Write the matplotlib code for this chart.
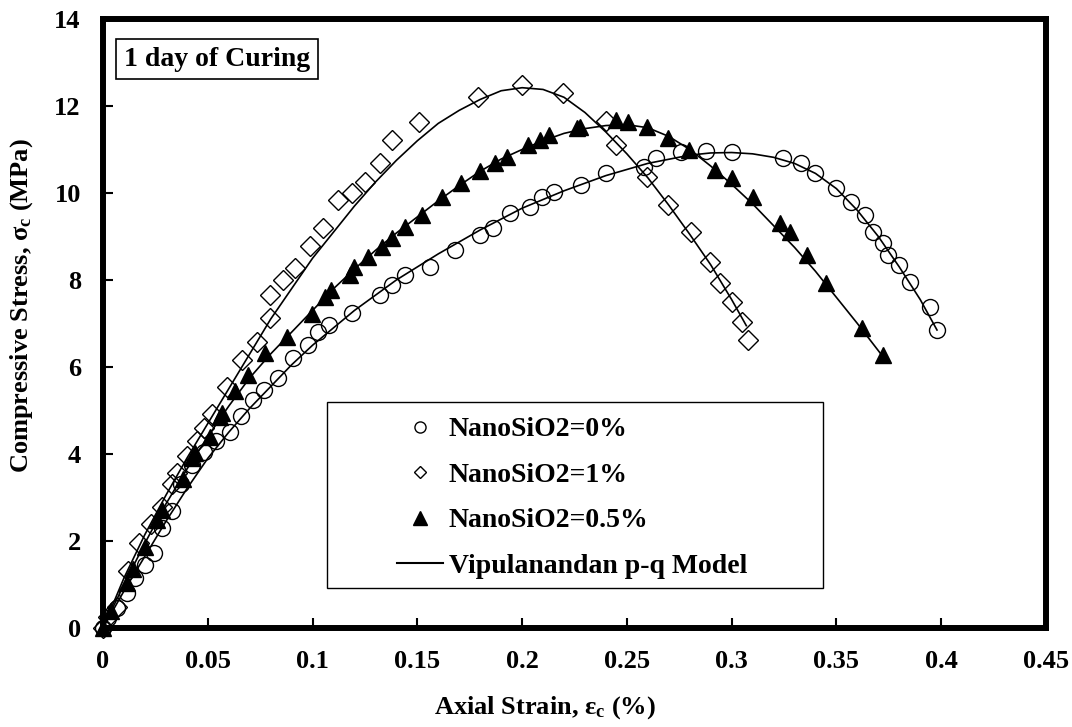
import numpy as np
import matplotlib.pyplot as plt
from matplotlib.lines import Line2D
from matplotlib.patches import Rectangle

plt.rcParams['font.family'] = 'Liberation Serif'
plt.rcParams['font.weight'] = 'bold'
plt.rcParams['mathtext.fontset'] = 'custom'
plt.rcParams['mathtext.rm'] = 'Liberation Serif:bold'
plt.rcParams['mathtext.it'] = 'Liberation Serif:bold'
plt.rcParams['mathtext.bf'] = 'Liberation Serif:bold'

# measured points, NanoSiO2 = 0 %
strain_0 = [0, 0.0024, 0.0067, 0.0115, 0.0153, 0.020, 0.0245, 0.028, 0.033, 0.037,
            0.0425, 0.048, 0.054, 0.0606, 0.066, 0.0716, 0.077, 0.0835, 0.0907, 0.098,
            0.1025, 0.108, 0.119, 0.132, 0.138, 0.144, 0.156, 0.168, 0.180, 0.186,
            0.194, 0.204, 0.2095, 0.215, 0.228, 0.240, 0.258, 0.264, 0.276, 0.288,
            0.300, 0.3245, 0.333, 0.340, 0.350, 0.357, 0.3636, 0.3675, 0.372, 0.3746,
            0.380, 0.385, 0.3946, 0.398]
stress_0 = [0, 0.23, 0.46, 0.8, 1.15, 1.45, 1.72, 2.3, 2.68, 3.3,
            3.75, 4.05, 4.3, 4.5, 4.88, 5.24, 5.47, 5.75, 6.2, 6.5,
            6.8, 6.97, 7.24, 7.66, 7.89, 8.11, 8.3, 8.69, 9.03, 9.2,
            9.54, 9.68, 9.91, 10.02, 10.18, 10.46, 10.6, 10.8, 10.94, 10.97,
            10.94, 10.8, 10.69, 10.46, 10.11, 9.79, 9.49, 9.1, 8.85, 8.57,
            8.34, 7.95, 7.38, 6.85]

# measured points, NanoSiO2 = 1 %
strain_1 = [0, 0.0024, 0.0067, 0.012, 0.0172, 0.023, 0.028, 0.033, 0.0353, 0.040,
            0.0449, 0.048, 0.052, 0.0592, 0.0663, 0.0734, 0.0797, 0.0797, 0.0859, 0.0916,
            0.0988, 0.105, 0.112, 0.119, 0.125, 0.132, 0.138, 0.151, 0.179, 0.200,
            0.2195, 0.240, 0.245, 0.2598, 0.2697, 0.2804, 0.2897, 0.2945, 0.300, 0.305,
            0.3078]
stress_1 = [0, 0.25, 0.48, 1.3, 1.95, 2.4, 2.78, 3.3, 3.57, 3.95,
            4.3, 4.6, 4.92, 5.54, 6.16, 6.57, 7.13, 7.66, 8.0, 8.28,
            8.77, 9.2, 9.84, 10.0, 10.25, 10.69, 11.22, 11.63, 12.2, 12.48,
            12.3, 11.65, 11.1, 10.37, 9.72, 9.1, 8.41, 7.93, 7.49, 7.03,
            6.62]

# measured points, NanoSiO2 = 0.5 %
strain_05 = [0, 0.004, 0.0115, 0.0143, 0.020, 0.0258, 0.028, 0.0382, 0.0425, 0.0439,
             0.051, 0.0558, 0.0568, 0.063, 0.0692, 0.0773, 0.0878, 0.0997, 0.106, 0.109,
             0.118, 0.120, 0.1265, 0.133, 0.138, 0.144, 0.152, 0.162, 0.1707, 0.1798,
             0.187, 0.193, 0.2029, 0.2087, 0.2128, 0.226, 0.2276, 0.245, 0.2507, 0.2598,
             0.2697, 0.2796, 0.292, 0.300, 0.310, 0.323, 0.3278, 0.336, 0.345, 0.362,
             0.372]
stress_05 = [0, 0.4, 1.03, 1.35, 1.86, 2.48, 2.71, 3.43, 3.9, 4.02,
             4.39, 4.85, 4.94, 5.45, 5.82, 6.33, 6.7, 7.22, 7.61, 7.77,
             8.11, 8.3, 8.53, 8.76, 8.97, 9.22, 9.49, 9.91, 10.23, 10.5,
             10.69, 10.83, 11.1, 11.22, 11.33, 11.49, 11.52, 11.68, 11.63, 11.52,
             11.26, 10.99, 10.53, 10.34, 9.91, 9.31, 9.1, 8.57, 7.93, 6.9,
             6.28]

# p-q model curves
model_x_0 = [0, 0.01, 0.02, 0.03, 0.04, 0.05, 0.06, 0.07, 0.08, 0.09,
             0.10, 0.12, 0.14, 0.16, 0.18, 0.20, 0.22, 0.24, 0.26, 0.28,
             0.29, 0.30, 0.31, 0.32, 0.33, 0.34, 0.35, 0.36, 0.37, 0.38,
             0.39, 0.398]
model_y_0 = [0, 0.85, 1.65, 2.45, 3.2, 3.9, 4.5, 5.05, 5.55, 6.05,
             6.5, 7.3, 8.0, 8.6, 9.15, 9.65, 10.05, 10.4, 10.68, 10.87,
             10.92, 10.93, 10.9, 10.82, 10.68, 10.45, 10.1, 9.6, 9.0, 8.3,
             7.55, 6.85]

model_x_1 = [0, 0.01, 0.02, 0.03, 0.04, 0.05, 0.06, 0.07, 0.08, 0.09,
             0.10, 0.11, 0.12, 0.13, 0.14, 0.15, 0.16, 0.17, 0.18, 0.19,
             0.20, 0.21, 0.22, 0.23, 0.24, 0.25, 0.26, 0.27, 0.28, 0.29,
             0.30, 0.307]
model_y_1 = [0, 1.15, 2.15, 3.05, 3.9, 4.7, 5.5, 6.3, 7.1, 7.8,
             8.5, 9.1, 9.7, 10.25, 10.75, 11.2, 11.6, 11.9, 12.15, 12.35,
             12.42, 12.38, 12.2, 11.85, 11.4, 10.9, 10.35, 9.72, 9.05, 8.35,
             7.55, 6.95]

model_x_05 = [0, 0.01, 0.02, 0.03, 0.04, 0.05, 0.06, 0.07, 0.08, 0.09,
              0.10, 0.11, 0.12, 0.13, 0.14, 0.15, 0.16, 0.17, 0.18, 0.19,
              0.20, 0.21, 0.22, 0.23, 0.24, 0.25, 0.26, 0.27, 0.28, 0.29,
              0.30, 0.31, 0.32, 0.33, 0.34, 0.35, 0.36, 0.372]
model_y_05 = [0, 1.0, 1.95, 2.85, 3.65, 4.4, 5.1, 5.75, 6.3, 6.8,
              7.3, 7.8, 8.25, 8.68, 9.08, 9.45, 9.82, 10.17, 10.5, 10.78,
              11.0, 11.2, 11.37, 11.48, 11.55, 11.57, 11.5, 11.3, 11.0, 10.62,
              10.2, 9.75, 9.25, 8.75, 8.2, 7.6, 7.0, 6.25]

xticks = [0, 0.05, 0.1, 0.15, 0.2, 0.25, 0.3, 0.35, 0.4, 0.45]
xtick_labels = ['0', '0.05', '0.1', '0.15', '0.2', '0.25', '0.3', '0.35', '0.4', '0.45']
yticks = [0, 2, 4, 6, 8, 10, 12, 14]

fig = plt.figure(figsize=(10.72, 7.27), dpi=100)
ax = fig.add_axes([0.0961, 0.1362, 0.8796, 0.8377])

for mx, my in [(model_x_0, model_y_0), (model_x_1, model_y_1), (model_x_05, model_y_05)]:
    ax.plot(mx, my, color='k', lw=1.2, zorder=2)

ax.plot(strain_0, stress_0, ls='none', marker='o', ms=11.5, mfc='none', mec='k',
        mew=1.0, zorder=3, clip_on=False)
ax.plot(strain_1, stress_1, ls='none', marker='D', ms=10, mfc='none', mec='k',
        mew=1.0, zorder=3, clip_on=False)
ax.plot(strain_05, stress_05, ls='none', marker='^', ms=12, mfc='k', mec='k',
        mew=1.0, zorder=3, clip_on=False)

ax.set_xlim(0, 0.45)
ax.set_ylim(0, 14)
ax.set_xticks(xticks)
ax.set_xticklabels(xtick_labels)
ax.set_yticks(yticks)
ax.tick_params(direction='in', length=7, width=1.5, labelsize=19, pad=16,
               top=False, right=False)
for s in ax.spines.values():
    s.set_linewidth(4.3)
    s.set_zorder(2.5)

ax.set_xlabel('Axial Strain, $\\mathregular{\u03b5_c}$ (%)', fontsize=19, fontweight='bold')
ax.set_ylabel('Compressive Stress, $\\mathregular{\u03c3_c}$ (MPa)', fontsize=19, fontweight='bold')
ax.xaxis.set_label_coords(0.469, -0.108)
ax.yaxis.set_label_coords(-0.072, 0.53)

ax.text(0.1209, 0.934, '1 day of Curing', transform=ax.transAxes, fontsize=20,
        fontweight='bold', ha='center', va='center',
        bbox=dict(boxstyle='square,pad=0.28', fc='white', ec='k', lw=1.2))

handles = [
    Line2D([], [], ls='none', marker='o', ms=8, mfc='none', mec='k', mew=1.0),
    Line2D([], [], ls='none', marker='D', ms=6.5, mfc='none', mec='k', mew=1.0),
    Line2D([], [], ls='none', marker='^', ms=9.5, mfc='k', mec='k'),
    Line2D([], [], color='k', lw=1.5),
]
labels = ['NanoSiO2=0%', 'NanoSiO2=1%', 'NanoSiO2=0.5%', 'Vipulanandan p-q Model']
ax.legend(handles, labels, loc='upper left', bbox_to_anchor=(0.3118, 0.3465),
          frameon=False, fontsize=20, handlelength=1.66, handletextpad=0.2,
          labelspacing=0.72, borderpad=0, borderaxespad=0)
ax.add_patch(Rectangle((0.2375, 0.0657), 0.526, 0.3053, transform=ax.transAxes,
                       fill=False, ec='k', lw=1.0, zorder=1))

fig.savefig('out.png', dpi=100)
